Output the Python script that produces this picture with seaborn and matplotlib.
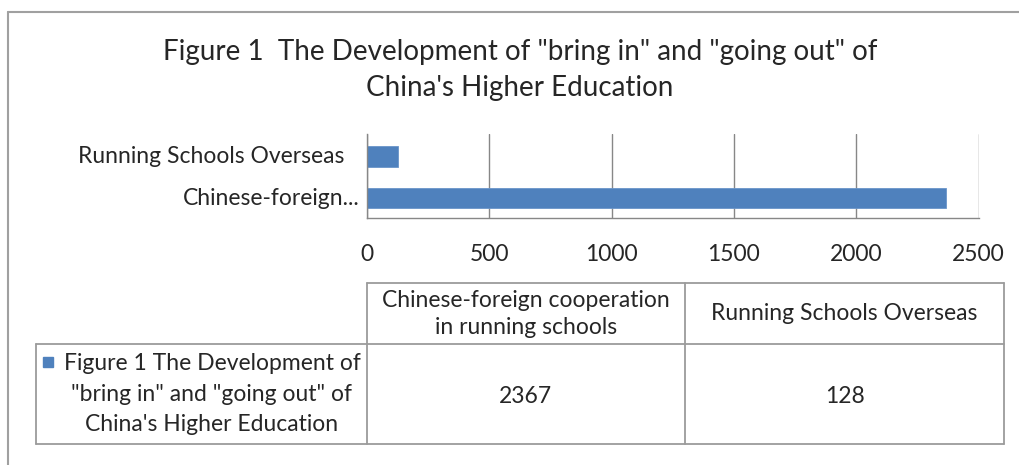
import matplotlib
matplotlib.use("Agg")
import matplotlib.pyplot as plt
import seaborn as sns
import pandas as pd

# data
categories = ["Running Schools Overseas", "Chinese-foreign cooperation in running schools"]
axis_labels = ["Running Schools Overseas", "Chinese-foreign..."]
values = [128, 2367]
x_ticks = [0, 500, 1000, 1500, 2000, 2500]
title = "Figure 1  The Development of \"bring in\" and \"going out\" of\nChina's Higher Education"
series_name = "Figure 1 The Development of\n\"bring in\" and \"going out\" of\nChina's Higher Education"
table_headers = ["Chinese-foreign cooperation\nin running schools", "Running Schools Overseas"]
table_values = [2367, 128]

BAR = "#4F81BD"
GRID = "#878787"
LINE = "#9b9b9b"
TXT = "#262626"

sns.set_style("white")
plt.rcParams["font.family"] = ["Lato", "DejaVu Sans"]

W, H = 1019, 465
fig = plt.figure(figsize=(W / 100, H / 100), dpi=100)

# overlay in pixel coordinates for frame, title and table
ov = fig.add_axes([0, 0, 1, 1])
ov.set_xlim(0, W)
ov.set_ylim(H, 0)
ov.axis("off")

# outer chart frame (top and left edges visible)
ov.plot([8.5, W + 5], [11.7, 11.7], color="#a0a0a0", lw=1.5)
ov.plot([8.5, 8.5], [11.7, H + 5], color="#a0a0a0", lw=1.5)

ov.text(520, 70, title, ha="center", va="center", fontsize=20, color=TXT,
        linespacing=1.5)

# bar chart
left, right, top, bottom = 366.7, 978.7, 134, 217.7
ax = fig.add_axes([left / W, 1 - bottom / H, (right - left) / W, (bottom - top) / H])
df = pd.DataFrame({"category": categories, "value": values})
sns.barplot(data=df, x="value", y="category", orient="h", color=BAR,
            width=0.5, saturation=1, ax=ax, edgecolor="#6a95c9", linewidth=0.6)
ax.set_xlim(0, 2500)
ax.set_ylim(1.477, -0.55)
ax.set_xticks(x_ticks)
ax.set_xticklabels([str(t) for t in x_ticks])
ax.set_xlabel("")
ax.set_ylabel("")
ax.set_yticks([])
ax.grid(axis="x", color=GRID, lw=1)
ax.set_axisbelow(True)
for s in ["top", "right"]:
    ax.spines[s].set_visible(False)
for s in ["left", "bottom"]:
    ax.spines[s].set_color(GRID)
    ax.spines[s].set_linewidth(1)
ax.tick_params(axis="x", length=0, pad=19, labelsize=16.5, colors=TXT)

# category labels beside the bars
offsets = [-22, -7]
for i, lab in enumerate(axis_labels):
    ax.annotate(lab, xy=(0, i), xycoords=("axes fraction", "data"),
                xytext=(offsets[i] * 0.72, 0), textcoords="offset points",
                ha="right", va="center", fontsize=16.5, color=TXT)

# data table
c0, c1, c2, c3 = 35.7, 366.7, 685, 1004
r0, r1, r2 = 283.3, 344, 444
tl = dict(color=LINE, lw=1.3)
ov.plot([c1, c3], [r0, r0], **tl)
ov.plot([c0, c3], [r1, r1], **tl)
ov.plot([c0, c3], [r2, r2], **tl)
ov.plot([c0, c0], [r1, r2], **tl)
for c in (c1, c2, c3):
    ov.plot([c, c], [r0, r2], **tl)

centers = [(c1 + c2) / 2, (c2 + c3) / 2]
for cx, head, val in zip(centers, table_headers, table_values):
    ov.text(cx, (r0 + r1) / 2, head, ha="center", va="center", fontsize=16.5,
            color=TXT, linespacing=1.35)
    ov.text(cx, (r1 + r2) / 2 + 2, str(val), ha="center", va="center", fontsize=16.5,
            color=TXT)

ov.add_patch(plt.Rectangle((43.5, 357), 10, 10, color=BAR))
ov.text(212, (r1 + r2) / 2, series_name, ha="center", va="center", fontsize=16.5,
        color=TXT, linespacing=1.55)

fig.savefig("out.png", dpi=100)
